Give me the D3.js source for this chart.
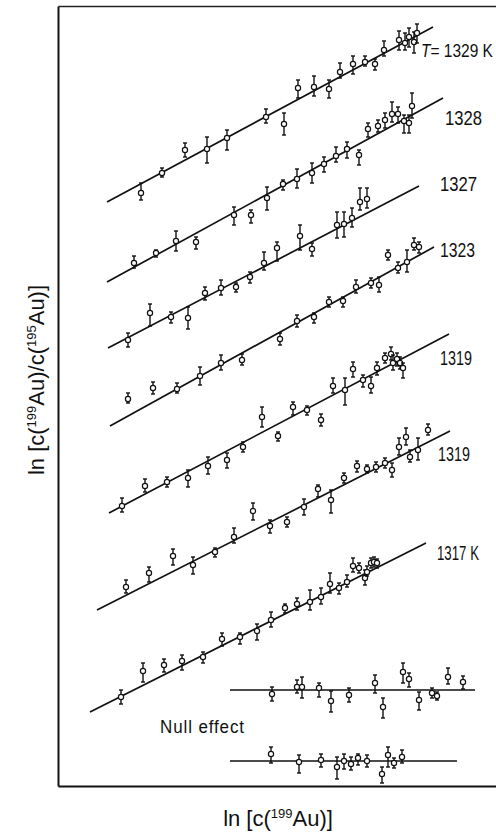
<!DOCTYPE html>
<html>
<head>
<meta charset="utf-8">
<script src="https://cdn.jsdelivr.net/npm/d3@7"></script>
<style>
  body { margin: 0; background: #fff; }
  svg { display: block; }
  .lbl { font-family: "Liberation Sans", Arial, sans-serif; fill: #111; }
  .axis-title { font-family: "Liberation Sans", Arial, sans-serif; font-size: 22px; fill: #111; }
</style>
</head>
<body>
<div id="chart"></div>
<script>
// Values, arbitrary units (no tick labels in the original)
// point rows: [x, y, yLow, yHigh]
const s1329 = [
  [8.3, 59.3, 58.6, 60.3], [10.4, 61.3, 60.9, 61.8], [12.7, 63.6, 62.9, 64.3], [14.9, 63.7, 62.3, 64.9],
  [16.9, 64.8, 63.6, 65.6], [20.8, 66.9, 66.3, 67.7], [22.6, 66.2, 65.1, 67.3], [24.0, 69.8, 68.8, 70.6],
  [25.6, 69.9, 69.0, 71.0], [27.1, 69.7, 68.8, 70.6], [28.2, 71.4, 70.8, 72.3], [29.5, 72.2, 71.2, 73.0],
  [30.7, 72.4, 72.0, 73.0], [31.7, 72.2, 71.6, 72.7], [32.6, 73.6, 73.0, 74.5], [34.1, 74.6, 73.6, 75.5],
  [34.7, 74.3, 73.6, 75.3], [35.1, 74.9, 73.9, 75.8], [35.6, 74.4, 73.3, 75.4], [35.9, 75.3, 74.3, 76.2]
];
const s1328 = [
  [7.6, 52.3, 51.8, 53.0], [9.8, 53.3, 52.9, 53.6], [11.8, 54.5, 53.5, 55.5], [13.8, 54.4, 53.7, 54.9],
  [17.6, 57.1, 56.1, 57.9], [19.3, 57.1, 56.3, 57.6], [20.9, 58.8, 57.6, 59.9], [22.5, 60.2, 59.6, 60.6],
  [23.9, 60.7, 59.8, 61.7], [25.4, 61.3, 60.3, 62.3], [26.6, 62.2, 61.4, 62.9], [27.8, 63.0, 62.4, 63.9],
  [28.9, 63.7, 62.8, 64.4], [30.1, 63.1, 62.1, 63.6], [31.0, 65.7, 64.9, 66.3], [32.0, 66.0, 65.4, 66.6],
  [32.7, 66.6, 65.8, 67.3], [33.4, 67.2, 66.4, 68.4], [34.0, 67.2, 66.3, 67.9], [34.6, 66.5, 65.3, 67.1],
  [35.1, 66.3, 65.3, 67.1], [35.4, 68.0, 66.8, 69.3]
];
const s1327 = [
  [7.0, 44.6, 43.9, 45.3], [9.2, 47.3, 46.0, 48.2], [11.3, 46.9, 46.3, 47.4], [13.0, 46.8, 45.7, 47.9],
  [14.7, 49.3, 48.6, 49.9], [16.3, 49.8, 49.1, 50.6], [17.8, 49.9, 49.4, 50.3], [19.2, 50.9, 50.3, 51.4],
  [20.6, 52.3, 51.6, 53.4], [21.9, 53.8, 52.5, 54.4], [24.2, 55.0, 53.6, 56.1], [25.4, 53.7, 53.0, 54.3],
  [27.9, 56.1, 54.8, 57.4], [28.6, 56.2, 54.9, 57.4], [29.4, 56.8, 55.9, 57.8], [30.2, 58.4, 57.6, 59.8],
  [30.9, 58.7, 57.8, 59.8]
];
const s1323 = [
  [7.0, 38.7, 38.3, 39.3], [9.5, 39.8, 39.2, 40.4], [11.9, 39.7, 39.3, 40.3], [14.2, 41.0, 40.1, 41.9],
  [16.3, 42.3, 41.6, 43.1], [18.4, 42.6, 42.1, 43.2], [22.2, 44.7, 44.1, 45.3], [23.9, 46.5, 45.9, 47.1],
  [25.6, 46.9, 46.3, 47.3], [27.1, 48.4, 47.9, 48.9], [28.5, 48.5, 47.9, 48.9], [29.8, 49.9, 49.3, 50.6],
  [31.3, 50.3, 49.8, 50.8], [32.1, 50.1, 49.4, 50.9], [33.0, 53.1, 52.6, 53.6], [34.0, 51.8, 51.3, 52.4],
  [34.9, 52.4, 51.4, 53.6], [35.6, 54.1, 53.6, 54.8], [36.1, 53.9, 53.3, 54.4]
];
const s1319a = [
  [6.4, 28.0, 27.4, 28.8], [8.7, 30.0, 29.4, 30.7], [10.9, 30.4, 29.9, 30.9], [13.0, 30.8, 29.9, 31.6],
  [15.0, 32.0, 31.2, 32.9], [16.9, 32.6, 31.8, 33.3], [18.5, 33.9, 33.4, 34.4], [20.4, 36.9, 35.9, 37.9],
  [22.0, 35.0, 34.5, 35.4], [23.5, 37.9, 37.1, 38.4], [24.9, 37.6, 37.1, 38.0], [26.3, 36.6, 36.0, 37.2],
  [27.5, 40.0, 39.3, 40.8], [28.7, 39.6, 38.1, 40.8], [29.5, 41.7, 40.9, 42.4], [30.5, 40.6, 39.9, 41.1],
  [31.3, 40.0, 39.3, 40.9], [31.9, 41.8, 41.1, 42.4], [32.7, 42.8, 42.3, 43.3], [33.3, 43.2, 42.6, 43.9],
  [33.5, 42.3, 41.6, 43.1], [33.9, 42.7, 42.0, 43.3], [34.2, 42.3, 41.7, 42.9], [34.5, 41.8, 40.8, 42.3]
];
const s1319b = [
  [6.8, 19.9, 19.3, 20.6], [9.1, 21.3, 20.4, 21.9], [11.5, 23.0, 22.1, 23.7], [13.5, 22.1, 21.2, 22.9],
  [15.7, 23.4, 22.9, 23.8], [17.6, 24.9, 24.3, 25.8], [19.5, 27.5, 26.6, 28.3], [21.2, 26.0, 25.3, 26.6],
  [22.9, 26.4, 25.9, 26.9], [24.6, 27.9, 27.1, 28.7], [26.0, 29.7, 28.9, 30.1], [27.3, 28.6, 27.3, 29.6],
  [28.6, 30.8, 30.3, 31.3], [29.9, 32.0, 31.4, 32.5], [30.9, 31.7, 31.3, 32.1], [31.8, 31.9, 31.4, 32.4],
  [32.7, 32.3, 31.8, 32.8], [33.4, 31.6, 30.9, 32.3], [34.1, 33.9, 33.1, 34.8], [34.8, 34.9, 34.1, 35.8],
  [35.2, 32.9, 32.4, 33.6], [36.0, 33.6, 32.6, 34.8], [37.0, 35.6, 35.1, 36.2]
];
const s1317 = [
  [6.3, 8.9, 8.2, 9.6], [8.5, 11.5, 10.4, 12.3], [10.6, 12.1, 11.4, 12.7], [12.4, 12.5, 11.6, 13.1],
  [14.5, 12.9, 12.3, 13.4], [16.4, 14.7, 14.0, 15.3], [18.2, 14.9, 14.2, 15.3], [19.9, 15.5, 14.6, 16.2],
  [21.3, 16.6, 15.9, 17.4], [22.7, 17.8, 17.3, 18.2], [23.9, 18.2, 17.6, 18.8], [25.2, 18.4, 17.6, 19.6],
  [26.3, 18.9, 18.2, 19.8], [27.2, 20.2, 19.3, 21.3], [28.1, 19.8, 19.2, 20.3], [28.9, 20.4, 19.9, 21.1],
  [29.5, 22.0, 21.4, 22.8], [30.1, 21.8, 21.3, 22.3], [30.7, 20.8, 20.1, 21.6], [30.9, 21.4, 21.0, 22.0],
  [31.3, 22.3, 21.8, 22.8], [31.6, 22.4, 21.9, 22.9], [31.9, 22.3, 21.8, 22.7]
];
const sNull1 = [
  [21.4, 9.2, 8.5, 9.9], [23.9, 9.9, 9.3, 10.6], [24.4, 9.9, 8.8, 10.9], [26.1, 9.8, 8.9, 10.3],
  [27.3, 8.5, 7.4, 9.5], [29.1, 9.1, 8.4, 9.8], [31.7, 10.3, 9.3, 11.1], [32.5, 7.9, 6.8, 8.8],
  [34.5, 11.4, 10.3, 12.3], [35.1, 10.7, 9.9, 11.3], [36.1, 8.6, 7.6, 9.4], [37.4, 9.3, 8.8, 9.8],
  [37.9, 9.0, 8.6, 9.4], [39.0, 10.9, 10.2, 11.8], [40.5, 10.4, 9.7, 11.0]
];
const sNull2 = [
  [21.3, 3.2, 2.3, 3.9], [24.1, 2.4, 1.3, 3.1], [26.3, 2.6, 1.9, 3.2], [27.9, 1.9, 0.7, 2.9],
  [28.6, 2.5, 1.7, 3.2], [29.3, 2.2, 1.6, 2.9], [30.0, 2.8, 2.1, 3.2], [30.9, 2.5, 1.9, 3.1],
  [32.4, 1.2, 0.3, 1.9], [33.0, 3.1, 1.9, 3.9], [33.6, 2.3, 1.8, 2.8], [34.4, 2.9, 2.3, 3.6]
];

// fitted lines: [[x0, y0], [x1, y1]]
const fit1329 = [[4.9, 58.4], [37.5, 75.9]];
const fit1328 = [[4.9, 50.4], [38.5, 68.8]];
const fit1327 = [[5.0, 43.8], [36.1, 60.0]];
const fit1323 = [[5.2, 36.0], [37.6, 53.9]];
const fit1319a = [[5.1, 27.3], [39.1, 45.2]];
const fit1319b = [[3.9, 17.6], [39.2, 35.5]];
const fit1317 = [[3.2, 7.4], [36.8, 24.3]];
const fitNull1 = [[17.2, 9.6], [41.7, 9.6]];
const fitNull2 = [[17.2, 2.5], [39.9, 2.5]];

const seriesLabels = ["1329 K", "1328", "1327", "1323", "1319", "1319", "1317 K", "", ""];
const xDomain = [0, 43.8];
const yDomain = [0, 78];

// layout (pixels)
const W = 496, H = 836;
const margin = { top: 6, right: 0, bottom: 50, left: 58 };
// label anchors in pixels: [x, y-middle, width] (the original uses a condensed face)
const labelPos = [[421, 50, 72], [445, 118, 37], [440, 184, 37], [440, 250, 35],
                  [440, 358, 32], [438, 454, 32], [437, 553, 42]];

const series = [
  { pts: s1329, fit: fit1329 }, { pts: s1328, fit: fit1328 }, { pts: s1327, fit: fit1327 },
  { pts: s1323, fit: fit1323 }, { pts: s1319a, fit: fit1319a }, { pts: s1319b, fit: fit1319b },
  { pts: s1317, fit: fit1317 }, { pts: sNull1, fit: fitNull1 }, { pts: sNull2, fit: fitNull2 }
].map((s, i) => ({ ...s, name: seriesLabels[i] }));

const svg = d3.select("#chart").append("svg")
  .attr("width", W).attr("height", H);

const x = d3.scaleLinear().domain(xDomain).range([margin.left, W - margin.right]);
const y = d3.scaleLinear().domain(yDomain).range([H - margin.bottom, margin.top]);

// frame: left, top, bottom (no ticks in the original)
svg.append("g").attr("transform", `translate(${margin.left},0)`)
  .call(d3.axisLeft(y).tickValues([]).tickSizeOuter(0))
  .select(".domain").attr("stroke", "#111").attr("stroke-width", 2);
svg.append("g").attr("transform", `translate(0,${margin.top})`)
  .call(d3.axisTop(x).tickValues([]).tickSizeOuter(0))
  .select(".domain").attr("stroke", "#222").attr("stroke-width", 1.5);
svg.append("g").attr("transform", `translate(0,${H - margin.bottom})`)
  .call(d3.axisBottom(x).tickValues([]).tickSizeOuter(0))
  .select(".domain").attr("stroke", "#111").attr("stroke-width", 2);

const line = d3.line().x(d => x(d[0])).y(d => y(d[1]));

const g = svg.append("g");
series.forEach(s => {
  g.append("path").datum(s.fit)
    .attr("d", line).attr("fill", "none")
    .attr("stroke", "#111").attr("stroke-width", 1.7);

  const pg = g.append("g").selectAll("g").data(s.pts).join("g");
  pg.append("line")
    .attr("x1", d => x(d[0])).attr("x2", d => x(d[0]))
    .attr("y1", d => y(d[2])).attr("y2", d => y(d[3]))
    .attr("stroke", "#111").attr("stroke-width", 1.4);
  [2, 3].forEach(k => {
    pg.append("line")
      .attr("x1", d => x(d[0]) - 2).attr("x2", d => x(d[0]) + 2)
      .attr("y1", d => y(d[k])).attr("y2", d => y(d[k]))
      .attr("stroke", "#111").attr("stroke-width", 1.4);
  });
  pg.append("circle")
    .attr("cx", d => x(d[0])).attr("cy", d => y(d[1]))
    .attr("r", 2.6).attr("fill", "#fff")
    .attr("stroke", "#111").attr("stroke-width", 1.2);
});

// condensed label: draw at natural width, then squeeze horizontally to the target width
function condensed(px, py, w, size) {
  const t = svg.append("text").attr("class", "lbl")
    .attr("dy", "0.35em").attr("font-size", size);
  return {
    t,
    fit() {
      const s = w / t.node().getComputedTextLength();
      t.attr("transform", `translate(${px},${py}) scale(${s},1)`);
    }
  };
}

labelPos.forEach((p, i) => {
  const c = condensed(p[0], p[1], p[2], i === 0 ? 19 : 20);
  if (i === 0) {
    c.t.append("tspan").attr("font-style", "italic").text("T");
    c.t.append("tspan").text("= " + series[i].name);
  } else {
    c.t.text(series[i].name);
  }
  c.fit();
});

const nl = condensed(160, 726, 85, 19);
nl.t.attr("letter-spacing", 1).text("Null effect");
nl.fit();

// axis titles
const xt = svg.append("text").attr("class", "axis-title")
  .attr("x", 278).attr("y", 826).attr("text-anchor", "middle");
xt.append("tspan").text("ln [c(");
xt.append("tspan").attr("font-size", 13).attr("dy", -8).text("199");
xt.append("tspan").attr("dy", 8).text("Au)]");

const yt = svg.append("text").attr("class", "axis-title")
  .attr("transform", "translate(44,380) rotate(-90)").attr("text-anchor", "middle");
yt.append("tspan").text("ln [c(");
yt.append("tspan").attr("font-size", 13).attr("dy", -8).text("199");
yt.append("tspan").attr("dy", 8).text("Au)/c(");
yt.append("tspan").attr("font-size", 13).attr("dy", -8).text("195");
yt.append("tspan").attr("dy", 8).text("Au)]");
</script>
</body>
</html>
